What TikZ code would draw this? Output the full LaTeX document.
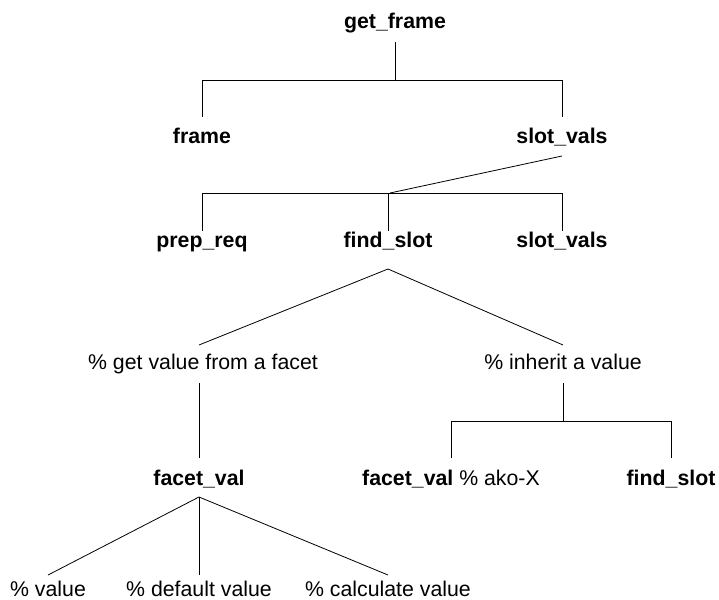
\documentclass[tikz,border=0pt]{standalone}
\usepackage{fontspec}
\setmainfont{Liberation Sans}
\usetikzlibrary{calc}
\tikzset{
  lbl/.style={inner sep=0pt, anchor=base, font=\fontsize{21.3}{24}\selectfont},
  key/.style={lbl, font=\fontsize{21.3}{24}\selectfont\bfseries},
  edge/.style={draw=black, line width=0.8pt},
}
\begin{document}
\begin{tikzpicture}[x=1pt,y=-1pt]
\useasboundingbox (0,0) rectangle (719,599);

% level 0 and 1
\node[key] (getframe) at (395,29) {get\_frame};
\node[key] (frame)    at (202,143) {frame};
\node[key] (slotvalsA) at (562,143) {slot\_vals};

% level 2
\node[key] (prepreq)   at (202,247) {prep\_req};
\node[key] (findslotA) at (388,247) {find\_slot};
\node[key] (slotvalsB) at (562,247) {slot\_vals};

% level 3: comments
\node[lbl] (getval)  at (203,369) {\% get value from a facet};
\node[lbl] (inherit) at (563,369) {\% inherit a value};

% level 4
\node[lbl] (facetvalA) at (199,485) {\textbf{facet\_val}};
\node[lbl] (facetvalB) at (451,485) {\textbf{facet\_val} \% ako-X};
\node[key] (findslotB) at (671,485) {find\_slot};

% level 5
\node[lbl] (vvalue)   at (48,596)  {\% value};
\node[lbl] (vdefault) at (199,596) {\% default value};
\node[lbl] (vcalc)    at (388,596) {\% calculate value};

% junction points
\coordinate (jA) at (395,80);
\coordinate (jB) at (390,193);
\coordinate (jC) at (563,421);

% get_frame -> frame, slot_vals
\draw[edge] ($(getframe.base)+(0,13)$) -- (jA);
\draw[edge] (jA -| frame) -- (jA -| slotvalsA);
\draw[edge] (jA -| frame) -- ($(frame.base)+(0,-26)$);
\draw[edge] (jA -| slotvalsA) -- ($(slotvalsA.base)+(0,-26)$);

% slot_vals -> prep_req, find_slot, slot_vals
\draw[edge] ($(slotvalsA.base)+(0,13)$) -- (jB);
\draw[edge] (jB -| prepreq) -- (jB -| slotvalsB);
\draw[edge] (jB -| prepreq) -- ($(prepreq.base)+(0,-16)$);
\draw[edge] (jB -| findslotA) -- ($(findslotA.base)+(0,-16)$);
\draw[edge] (jB -| slotvalsB) -- ($(slotvalsB.base)+(0,-16)$);

% find_slot -> comments
\draw[edge] ($(findslotA.base)+(0,22)$) -- ($(getval.base)+(-4,-24)$);
\draw[edge] ($(findslotA.base)+(0,22)$) -- ($(inherit.base)+(0,-24)$);

% get value from a facet -> facet_val
\draw[edge] ($(getval.base)+(-4,14)$) -- ($(facetvalA.base)+(0,-27)$);

% inherit a value -> facet_val, find_slot
\draw[edge] ($(inherit.base)+(0,14)$) -- (jC);
\draw[edge] (jC -| facetvalB) -- (jC -| findslotB);
\draw[edge] (jC -| facetvalB) -- ($(facetvalB.base)+(0,-27)$);
\draw[edge] (jC -| findslotB) -- ($(findslotB.base)+(0,-27)$);

% facet_val -> value kinds
\draw[edge] ($(facetvalA.base)+(0,12)$) -- ($(vvalue.base)+(0,-21)$);
\draw[edge] ($(facetvalA.base)+(0,12)$) -- ($(vdefault.base)+(0,-21)$);
\draw[edge] ($(facetvalA.base)+(0,12)$) -- ($(vcalc.base)+(0,-21)$);
\end{tikzpicture}
\end{document}
